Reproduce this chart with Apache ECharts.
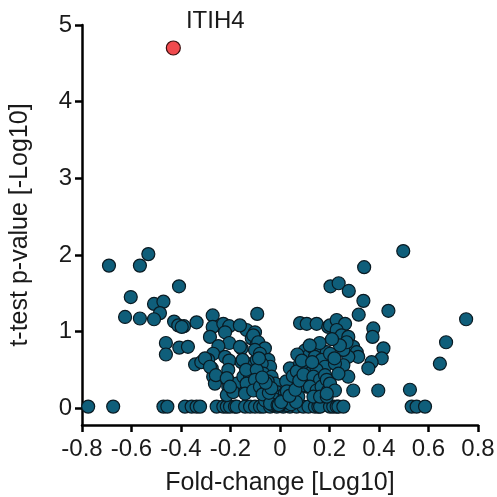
<!DOCTYPE html>
<html>
<head>
<meta charset="utf-8">
<script src="https://cdn.jsdelivr.net/npm/echarts@6/dist/echarts.min.js"></script>
<style>
html,body{margin:0;padding:0;background:#fff;}
#chart{width:497px;height:497px;}
</style>
</head>
<body>
<div id="chart"></div>
<script>
// Fold-change [Log10] (x) and t-test p-value [-Log10] (y) for proteins
const foldChange = [
  -0.691,-0.566,-0.532,-0.408,-0.603,-0.626,-0.566,-0.509,-0.471,-0.485,-0.509,-0.428,-0.411,-0.388,-0.461,-0.461,-0.407,-0.372,-0.397,-0.337,-0.343,-0.318,
  -0.775,-0.674,-0.471,-0.455,-0.384,-0.357,-0.337,-0.323,-0.256,-0.229,-0.215,-0.202,-0.182,-0.175,-0.141,-0.121,-0.101,-0.081,-0.067,-0.040,-0.013,0.013,0.040,0.067,0.094,0.115,0.141,0.155,0.162,0.202,0.215,0.229,0.236,0.256,0.532,0.552,0.586,
  -0.030,-0.020,0.000,0.020,0.030,
  -0.272,-0.272,-0.229,-0.205,-0.222,-0.283,-0.205,-0.249,-0.155,-0.135,-0.101,-0.092,-0.114,-0.094,-0.270,-0.222,-0.205,-0.290,-0.276,-0.209,-0.155,-0.135,-0.114,-0.094,-0.270,-0.215,-0.263,-0.175,-0.209,-0.148,-0.121,-0.101,-0.215,-0.189,-0.141,-0.121,-0.094,-0.303,-0.283,-0.135,-0.141,-0.151,-0.137,-0.162,-0.162,-0.259,-0.215,-0.202,
  -0.108,-0.088,-0.061,-0.101,-0.081,-0.047,-0.040,-0.074,-0.067,-0.034,-0.020,-0.094,-0.101,-0.108,-0.081,-0.054,-0.047,-0.013,-0.013,0.000,0.007,0.020,0.034,0.047,0.040,0.074,0.081,0.094,0.101,0.108,0.081,0.074,
  -0.030,-0.025,0.010,0.030,0.050,0.060,0.055,-0.060,-0.070,0.090,0.110,0.100,0.115,0.120,-0.040,-0.010,0.015,0.045,0.065,-0.050,0.025,0.085,-0.085,0.070,
  -0.045,-0.035,-0.005,0.005,0.028,0.038,0.052,0.062,0.068,0.078,0.088,0.095,-0.058,-0.072,
  0.081,0.108,0.148,0.195,0.128,0.148,0.168,0.189,0.141,0.168,0.182,0.148,0.135,0.162,0.182,0.121,0.148,0.168,0.189,0.195,0.135,0.162,0.189,0.130,0.160,0.120,
  0.202,0.229,0.263,0.229,0.249,0.276,0.377,0.374,0.418,0.411,0.370,0.357,0.296,0.310,0.316,0.276,0.256,0.269,0.242,0.256,0.276,0.296,0.397,0.202,0.222,0.236,0.202,0.222,0.189,0.210,0.220,
  0.498,0.340,0.204,0.237,0.278,0.337,0.318,0.438,0.752,0.671,0.646,0.525
];
const pValue = [
  1.86,1.86,2.01,1.59,1.45,1.19,1.17,1.36,1.39,1.24,1.16,1.13,1.08,1.07,0.85,0.70,0.79,0.80,1.06,1.12,0.57,0.60,
  0.02,0.02,0.02,0.02,0.02,0.02,0.02,0.02,0.02,0.02,0.02,0.02,0.02,0.02,0.02,0.02,0.02,0.02,0.02,0.02,0.02,0.02,0.02,0.02,0.02,0.02,0.02,0.02,0.02,0.02,0.02,0.02,0.02,0.02,0.02,0.02,0.02,
  0.04,0.05,0.03,0.05,0.04,
  1.21,1.06,1.10,1.07,0.99,0.93,0.85,0.81,0.78,1.02,0.99,1.23,0.91,0.84,0.71,0.67,0.62,0.63,0.52,0.50,0.60,0.58,0.54,0.63,0.41,0.39,0.32,0.32,0.28,0.41,0.39,0.45,0.17,0.21,0.21,0.28,0.30,0.65,0.54,0.32,0.19,0.63,0.50,1.08,0.80,0.43,0.39,0.28,
  0.95,0.86,0.78,0.76,0.71,0.63,0.54,0.58,0.45,0.41,0.32,0.50,0.37,0.23,0.28,0.23,0.15,0.21,0.10,0.15,0.06,0.19,0.28,0.37,0.52,0.45,0.58,0.65,0.37,0.28,0.28,0.15,
  0.08,0.12,0.10,0.12,0.20,0.30,0.10,0.10,0.18,0.50,0.55,0.75,0.68,0.45,0.06,0.04,0.08,0.05,0.08,0.35,0.35,0.40,0.65,0.70,
  0.20,0.26,0.04,0.08,0.22,0.16,0.42,0.24,0.48,0.36,0.62,0.44,0.33,0.40,
  1.11,1.10,1.10,1.06,0.80,0.78,0.76,0.73,0.67,0.63,0.54,0.50,0.41,0.37,0.43,0.28,0.23,0.28,0.37,0.23,0.15,0.15,0.15,0.60,0.85,0.82,
  1.08,1.15,1.10,1.02,0.95,0.93,1.04,0.93,0.78,0.65,0.60,0.52,0.80,0.73,0.67,0.67,0.76,0.86,0.82,0.56,0.41,0.23,0.23,0.71,0.58,0.45,0.32,0.23,0.19,0.90,0.65,
  2.05,1.84,1.59,1.63,1.53,1.40,1.22,1.27,1.16,0.86,0.58,0.24
];
const highlightName = ['ITIH4'];
const highlightFC = [-0.431];
const highlightP = [4.70];
const xTicks = [-0.8,-0.6,-0.4,-0.2,0,0.2,0.4,0.6,0.8];
const yTicks = [0,1,2,3,4,5];

const FONT = 'Liberation Sans, Arial, sans-serif';
const chart = echarts.init(document.getElementById('chart'), null, {renderer:'canvas'});
const blueData = foldChange.map((x,i)=>[x,pValue[i]]);
const redData = highlightFC.map((x,i)=>({value:[x,highlightP[i]], name:highlightName[i]}));
const axisLine = {show:true, onZero:false, lineStyle:{color:'#000', width:2.5}};
chart.setOption({
  animation:false,
  backgroundColor:'#fff',
  grid:{left:82,right:19,top:25,bottom:72,containLabel:false,outerBoundsMode:'none'},
  xAxis:{
    type:'value', min:-0.8, max:0.8, interval:0.2,
    axisLine:axisLine,
    axisTick:{show:true, inside:false, length:7, lineStyle:{color:'#000',width:2.5}},
    splitLine:{show:false},
    axisLabel:{fontFamily:FONT, fontSize:24, color:'#1a1a1a', margin:12,
      formatter:v=>{const r=Math.round(v*10)/10; return r===0?'0':r.toFixed(1);}},
    name:'Fold-change [Log10]', nameLocation:'middle', nameGap:46,
    nameTextStyle:{fontFamily:FONT, fontSize:25, color:'#1a1a1a'}
  },
  yAxis:{
    type:'value', min:-0.22, max:5,
    axisLine:axisLine,
    axisTick:{show:true, inside:false, length:7, customValues:yTicks, lineStyle:{color:'#000',width:2.5}},
    axisLabel:{fontFamily:FONT, fontSize:24, color:'#1a1a1a', margin:10, customValues:yTicks,
      formatter:v=>String(Math.round(v))},
    splitLine:{show:false},
    name:'t-test p-value [-Log10]', nameLocation:'middle', nameGap:49, nameRotate:90,
    nameTextStyle:{fontFamily:FONT, fontSize:25, color:'#1a1a1a'}
  },
  series:[
    {type:'scatter', data:blueData, symbol:'circle', symbolSize:13, clip:false,
     itemStyle:{color:'#0f5e7a', borderColor:'#0a1a22', borderWidth:1.2, opacity:1}},
    {type:'scatter', data:redData, symbol:'circle', symbolSize:14, clip:false,
     itemStyle:{color:'#f04a4e', borderColor:'#3a1010', borderWidth:1.2, opacity:1},
     label:{show:true, position:'right', distance:5, offset:[0,-27], formatter:'{b}',
       fontFamily:FONT, fontSize:24, color:'#1a1a1a', opacity:1}}
  ]
});
</script>
</body>
</html>
